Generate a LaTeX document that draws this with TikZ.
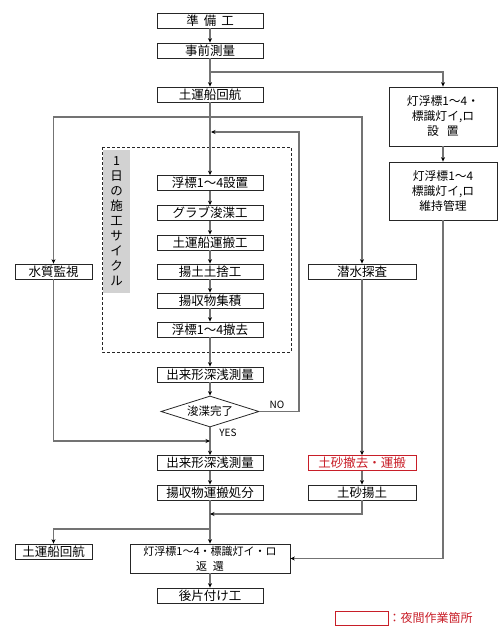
\documentclass[tikz,border=0pt]{standalone}
\usepackage{fontspec}
\setmainfont{Noto Sans CJK JP}
\usetikzlibrary{arrows.meta,shapes.geometric}
\definecolor{nightred}{RGB}{200,30,40}
\definecolor{lineg}{RGB}{115,115,115}
\begin{document}
\begin{tikzpicture}[x=1pt,y=-1pt,
  box/.style={draw=black!85, line width=0.8pt, minimum height=15pt, inner sep=0pt, font=\fontsize{12.5}{14}\selectfont},
  cbox/.style={box, minimum width=106pt},
  sbox/.style={box, minimum width=77pt},
  wbox/.style={box, minimum width=108pt},
  tallbox/.style={box, align=center, font=\fontsize{11.8}{15}\selectfont},
  conn/.style={draw=lineg, line width=1.1pt},
  arr/.style={conn, -{Stealth[length=4.5pt,width=4pt,color=black]}},
  lab/.style={font=\fontsize{10}{12}\selectfont, inner sep=0pt},
]
\useasboundingbox (0,0) rectangle (500,640);

% cycle frame and band
\fill[gray!35] (103,150) rectangle (130,293);
\node[align=center, inner sep=0pt, font=\fontsize{12.5}{15}\selectfont] (cyc) at (116.5,221) {1\\日\\の\\施\\工\\サ\\イ\\ク\\ル};
\draw[black!85, line width=0.8pt, dash pattern=on 3pt off 2pt] (102,147) rectangle (291,352);

% main column
\node[cbox] (prep) at (210,20.5) {準\hspace{5pt}備\hspace{5pt}工};
\node[cbox] (presurv) at (210,50.5) {事前測量};
\node[cbox] (ship1) at (210,94.5) {土運船回航};
\node[cbox] (buoyset) at (210,183) {浮標1～4設置};
\node[cbox] (grab) at (210,213) {グラブ浚渫工};
\node[cbox] (trans) at (210,242.5) {土運船運搬工};
\node[cbox] (dump) at (210,271.5) {揚土土捨工};
\node[cbox] (collect) at (210,300.5) {揚収物集積};
\node[cbox] (buoyrm) at (210,329.5) {浮標1～4撤去};
\node[cbox] (surv1) at (210,374.5) {出来形深浅測量};
\node[diamond, draw=black!85, line width=0.8pt, minimum width=98pt, minimum height=31pt, inner sep=0pt, aspect=3.16] (dia) at (210,411.5) {};
\node[inner sep=0pt, font=\fontsize{11.5}{14}\selectfont] (diatxt) at (dia.center) {浚渫完了};
\node[cbox] (surv2) at (210,463) {出来形深浅測量};
\node[cbox] (dispose) at (210,492.5) {揚収物運搬処分};
\node[box, minimum width=160pt, minimum height=29pt, align=center, font=\fontsize{11}{15}\selectfont] (ret) at (210,558.5) {灯浮標1～4・標識灯イ・ロ\\返\hspace{6pt}還};
\node[cbox] (clean) at (210,595.5) {後片付け工};

% left column
\node[sbox] (wq) at (53.5,271.5) {水質監視};
\node[sbox] (ship2) at (53.5,551.5) {土運船回航};

% right columns
\node[wbox] (dive) at (362,271.5) {潜水探査};
\node[wbox, draw=nightred, text=nightred] (remove) at (362,463) {土砂撤去・運搬};
\node[wbox] (unload) at (362,492.5) {土砂揚土};
\node[tallbox, minimum width=108pt, minimum height=59pt] (lb1) at (443,116.5) {灯浮標1～4・\\標識灯イ,ロ\\設\hspace{8pt}置};
\node[tallbox, minimum width=108pt, minimum height=58pt] (lb2) at (443,191) {灯浮標1～4\\標識灯イ,ロ\\維持管理};

% junction coordinates
\coordinate (jR) at (210,72);
\coordinate (jA) at (210,117);
\coordinate (noR) at (299,411.5);
\coordinate (noT) at (299,132);
\coordinate (loopIn) at (211,132);
\coordinate (jW) at (210,441);
\coordinate (jU) at (210,514);
\coordinate (jS) at (210,529);

% connectors
\draw[arr] (prep) -- (presurv);
\draw[arr] (presurv) -- (ship1);
\draw[arr] (jR) -| (lb1.north);
\draw[arr] (ship1) -- (buoyset);
\draw[arr] (jA) -| (wq.north);
\draw[arr] (jA) -| (dive.north);
\draw[arr] (buoyset) -- (grab);
\draw[arr] (grab) -- (trans);
\draw[arr] (trans) -- (dump);
\draw[arr] (dump) -- (collect);
\draw[arr] (collect) -- (buoyrm);
\draw[arr] (buoyrm) -- (surv1);
\draw[arr] (surv1) -- (dia.north);
\draw[arr] (dia.east) -- (noR) -- (noT) -- (loopIn);
\draw[arr] (dia.south) -- (surv2);
\draw[arr] (wq.south) |- (jW);
\draw[arr] (surv2) -- (dispose);
\draw[arr] (dispose) -- (ret);
\draw[arr] (jS) -| (ship2.north);
\draw[arr] (dive) -- (remove);
\draw[arr] (remove) -- (unload);
\draw[arr] (unload.south) |- (jU);
\draw[arr] (lb1) -- (lb2);
\draw[arr] (lb2.south) |- (ret.east);
\draw[arr] (ret) -- (clean);

% labels
\node[lab] (nolab) at (277,405) {NO};
\node[lab] (yeslab) at (228,433) {YES};

% legend
\node[draw=nightred, line width=0.8pt, minimum width=53pt, minimum height=14pt, inner sep=0pt] (legbox) at (361.5,618) {};
\node[anchor=west, inner sep=0pt, text=nightred, font=\fontsize{12}{14}\selectfont] (legtxt) at (legbox.east) {：夜間作業箇所};
\end{tikzpicture}
\end{document}
